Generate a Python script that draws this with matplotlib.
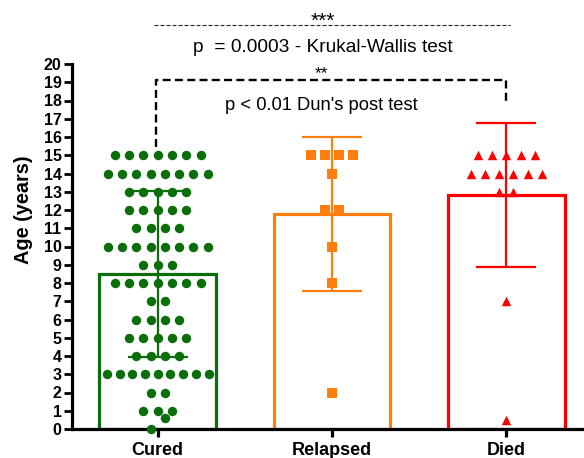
import numpy as np
import matplotlib
matplotlib.use("Agg")
import matplotlib.pyplot as plt

plt.rcParams['font.family'] = ['Liberation Sans', 'DejaVu Sans']

# ---------------- data ----------------
categories = ["Cured", "Relapsed", "Died"]
colors = ["#0a6e0a", "#ff7f0e", "#ff0000"]
markers = ["o", "s", "^"]

cured_values = [15, 14, 13, 12, 11, 10, 9, 8, 7, 6, 5, 4, 3, 2, 1, 0.6, 0]
cured_counts = [7, 8, 5, 5, 4, 8, 3, 7, 2, 4, 5, 4, 9, 2, 3, 1, 1]

relapsed_values = [15, 14, 12, 10, 8, 2]
relapsed_counts = [4, 1, 2, 1, 1, 1]

died_values = [15, 14, 13, 7, 0.5]
died_counts = [5, 6, 2, 1, 1]

yticks = list(range(0, 21))
ylabel = "Age (years)"

kw_stars = "***"
kw_text = "p  = 0.0003 - Krukal-Wallis test"
dunn_stars = "**"
dunn_text = "p < 0.01 Dun's post test"

# ---------------- build groups ----------------
groups = [np.repeat(cured_values, cured_counts).astype(float),
          np.repeat(relapsed_values, relapsed_counts).astype(float),
          np.repeat(died_values, died_counts).astype(float)]
means = [g.mean() for g in groups]
sds = [g.std(ddof=1) for g in groups]

fig = plt.figure(figsize=(5.84, 4.58), dpi=100)
ax = fig.add_axes([72/584, 29/458, 511/584, 365/458])

xpos = np.arange(len(categories))
ax.set_xlim(-0.492, 2.44)
ax.set_ylim(0, 20)

# bars (outline only)
ax.bar(xpos, means, width=0.67, facecolor="white", edgecolor=colors,
       linewidth=2.3, zorder=1)

# error bars (mean +/- SD)
for i in range(3):
    ax.errorbar(xpos[i], means[i], yerr=sds[i], fmt="none", ecolor=colors[i],
                elinewidth=1.6, capsize=21.6, capthick=1.6, zorder=2)


def swarm_offsets(vals, spacing=0.082, max_span=0.585, thresh=0.75):
    # rows of identical values; lone neighbouring points share a row
    uniq = sorted(set(vals.tolist()), reverse=True)
    rows = [[k for k in range(len(vals)) if vals[k] == u] for u in uniq]
    merged = []
    for r in rows:
        if (merged and len(r) == 1 and len(merged[-1]) == 1
                and vals[merged[-1][0]] - vals[r[0]] <= thresh):
            merged[-1] = merged[-1] + r
        else:
            merged.append(list(r))
    offs = np.zeros(len(vals))
    for cl in merged:
        n = len(cl)
        sp = spacing if n <= 1 else min(spacing, max_span / (n - 1))
        cl_sorted = sorted(cl, key=lambda k: vals[k])
        for j, k in enumerate(cl_sorted):
            offs[k] = (j - (n - 1) / 2) * sp
    return offs


for i, g in enumerate(groups):
    offs = swarm_offsets(g)
    s = 46 if markers[i] != "s" else 42
    ax.scatter(xpos[i] + offs, g, s=s, marker=markers[i], color=colors[i],
               linewidths=0, zorder=3, clip_on=False)

# axes styling
for side in ["top", "right"]:
    ax.spines[side].set_visible(False)
ax.spines["left"].set_linewidth(2.3)
ax.spines["bottom"].set_linewidth(2.3)
ax.set_yticks(yticks)
ax.set_yticklabels([str(t) for t in yticks], fontsize=11.5, fontweight="bold")
ax.set_xticks(xpos)
ax.set_xticklabels(categories, fontsize=13, fontweight="bold")
ax.tick_params(axis="y", length=6, width=2.0, pad=1.5)
ax.tick_params(axis="x", length=6, width=2.3, pad=3.5)
ax.set_ylabel(ylabel, fontsize=14.3, fontweight="bold")
ax.yaxis.set_label_coords(-0.076, 0.6)

# ---------------- significance annotations ----------------
# Kruskal-Wallis (thin dashed line across)
ax.plot([-0.02, 2.02], [22.14, 22.14], color="#222222", lw=0.8,
        linestyle=(0, (3.6, 1.8)), clip_on=False)
ax.text(0.945, 22.03, kw_stars, ha="center", va="baseline", fontsize=15,
        clip_on=False)
ax.text(0.945, 20.67, kw_text, ha="center", va="baseline", fontsize=13.8,
        clip_on=False)

# Dunn bracket
ax.plot([-0.01, -0.01, 2.0, 2.0], [15.45, 19.12, 19.12, 17.75], color="black",
        lw=1.7, linestyle=(0, (3.4, 1.8)), clip_on=False)
ax.text(0.94, 19.23, dunn_stars, ha="center", va="baseline", fontsize=12.5,
        clip_on=False)
ax.text(0.94, 17.48, dunn_text, ha="center", va="baseline", fontsize=13.2,
        clip_on=False)

fig.savefig("out.png", dpi=100)
